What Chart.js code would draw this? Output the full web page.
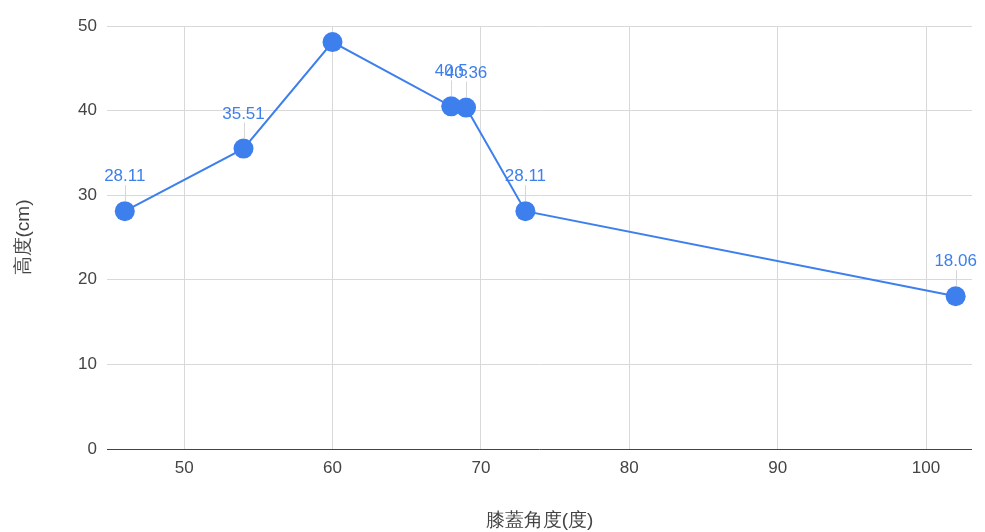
<!DOCTYPE html>
<html>
<head>
<meta charset="utf-8">
<script src="https://cdn.jsdelivr.net/npm/chart.js@4/dist/chart.umd.min.js"></script>
<style>
html,body{margin:0;padding:0;background:#fff;}
#wrap{width:985px;height:532px;position:relative;}
</style>
</head>
<body>
<div id="wrap"><canvas id="c" width="985" height="532"></canvas></div>
<script>
const kneeAngles = [46, 54, 60, 68, 69, 73, 102];
const heights = [28.11, 35.51, 48.1, 40.5, 40.36, 28.11, 18.06];
const pointLabels = ['28.11', '35.51', '', '40.5', '40.36', '28.11', '18.06'];
const xTicks = [50, 60, 70, 80, 90, 100];
const yTicks = [0, 10, 20, 30, 40, 50];
const xTitle = '膝蓋角度(度)';
const yTitle = '高度(cm)';

const FONT = '"Liberation Sans", Arial, sans-serif';
const BLUE = '#3d7fed';

const labelPlugin = {
  id: 'annot',
  afterDatasetsDraw(chart) {
    const ctx = chart.ctx;
    const meta = chart.getDatasetMeta(0);
    ctx.save();
    meta.data.forEach((pt, i) => {
      const t = pointLabels[i];
      if (!t) return;
      ctx.strokeStyle = '#d6d6d6';
      ctx.lineWidth = 1;
      ctx.beginPath();
      ctx.moveTo(Math.round(pt.x) + 0.5, pt.y - 10);
      ctx.lineTo(Math.round(pt.x) + 0.5, pt.y - 26);
      ctx.stroke();
      ctx.fillStyle = BLUE;
      ctx.font = '17px ' + FONT;
      ctx.textAlign = 'center';
      ctx.textBaseline = 'alphabetic';
      ctx.fillText(t, pt.x, pt.y - 30);
    });
    ctx.restore();
  }
};

new Chart(document.getElementById('c'), {
  type: 'scatter',
  data: {
    datasets: [{
      data: kneeAngles.map((x, i) => ({x: x, y: heights[i]})),
      showLine: true,
      borderColor: BLUE,
      backgroundColor: BLUE,
      borderWidth: 2,
      pointRadius: 10,
      pointHoverRadius: 10,
      pointBorderWidth: 0,
      tension: 0
    }]
  },
  options: {
    responsive: false,
    animation: false,
    devicePixelRatio: 1,
    layout: {padding: {left: 12, right: 13, top: 26, bottom: 0}},
    plugins: {legend: {display: false}, tooltip: {enabled: false}},
    scales: {
      x: {
        type: 'linear',
        min: 44.8,
        max: 103.1,
        afterBuildTicks(s) { s.ticks = xTicks.map(v => ({value: v})); },
        afterFit(s) { s.height = 83; },
        grid: {color: '#d9d9d9', drawTicks: false, lineWidth: 1},
        border: {display: false},
        ticks: {color: '#444', font: {family: FONT, size: 17}, padding: 9},
        title: {display: true, text: xTitle, color: '#444', font: {family: FONT, size: 19}, padding: {top: 24, bottom: 0}}
      },
      y: {
        min: 0,
        max: 50,
        afterBuildTicks(s) { s.ticks = yTicks.map(v => ({value: v})); },
        afterFit(s) { s.width = 95; },
        grid: {
          color: ctx => ctx.tick && ctx.tick.value === 0 ? '#444' : '#d9d9d9',
          drawTicks: false
        },
        border: {display: false},
        ticks: {color: '#444', font: {family: FONT, size: 17}, padding: 10},
        title: {display: true, text: yTitle, color: '#444', font: {family: FONT, size: 19}, padding: {top: 0, bottom: 0}}
      }
    }
  },
  plugins: [labelPlugin]
});
</script>
</body>
</html>
